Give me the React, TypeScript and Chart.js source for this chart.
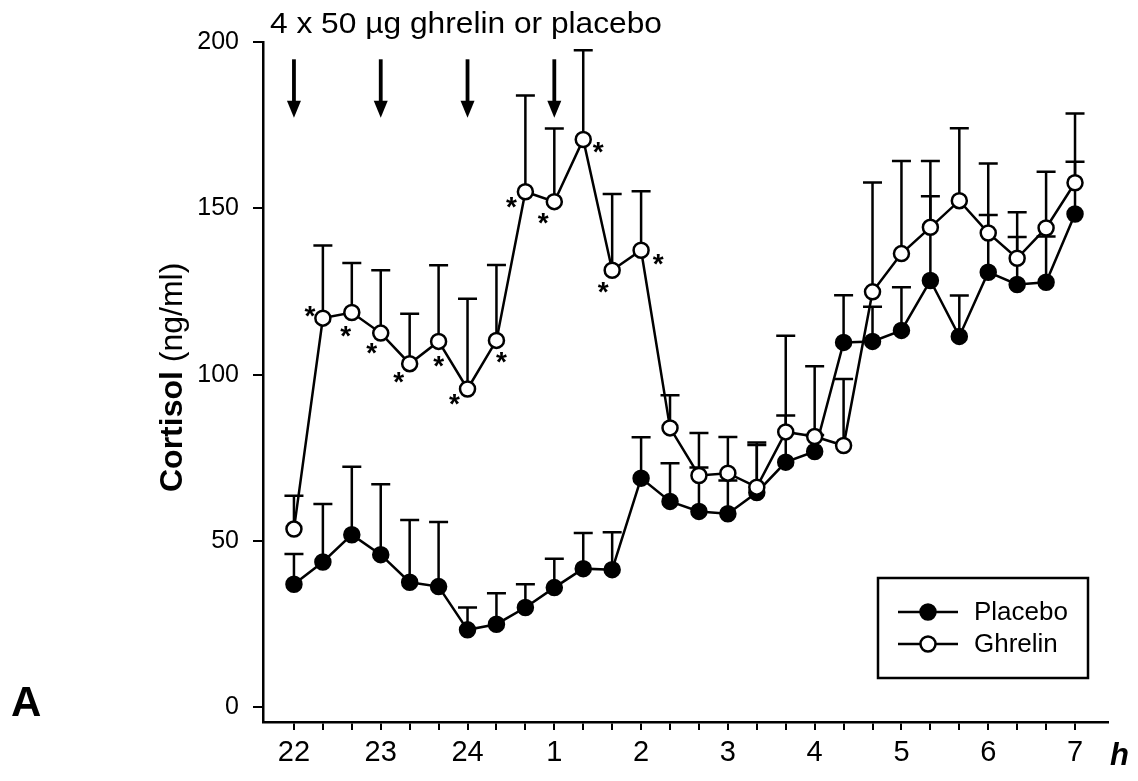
import React, { useEffect, useRef } from 'react';
import { Chart, registerables } from 'chart.js';

Chart.register(...registerables);

// ---- data ----
const timeLabels = ['22', '', '', '23', '', '', '24', '', '', '1', '', '', '2', '', '', '3', '', '', '4', '', '', '5', '', '', '6', '', '', '7'];
const placeboMean = [37.0, 43.7, 51.9, 45.9, 37.6, 36.3, 23.3, 25.0, 30.0, 36.0, 41.7, 41.4, 68.9, 61.9, 58.9, 58.2, 64.6, 73.7, 76.9, 109.7, 110.0, 113.3, 128.3, 111.5, 130.8, 127.1, 127.8, 148.3];
const placeboSem = [9.1, 17.4, 20.4, 21.2, 18.7, 19.4, 6.7, 9.3, 7.0, 8.7, 10.7, 11.2, 12.3, 11.5, 13.2, 10.0, 14.3, 14.0, 5.0, 14.2, 10.4, 13.0, 25.3, 12.3, 17.2, 14.3, 13.7, 15.7];
const ghrelinMean = [53.6, 117.0, 118.7, 112.5, 103.3, 110.0, 95.7, 110.3, 155.0, 152.0, 170.7, 131.4, 137.4, 84.0, 69.7, 70.4, 66.2, 82.8, 81.4, 78.7, 124.9, 136.4, 144.3, 152.3, 142.6, 135.0, 144.1, 157.7];
const ghrelinSem = [10.0, 21.8, 14.9, 18.9, 15.0, 22.9, 27.1, 22.7, 28.9, 22.0, 26.8, 22.9, 17.7, 9.8, 12.8, 10.9, 13.4, 28.9, 21.1, 20.0, 32.9, 27.8, 19.9, 21.8, 20.9, 13.8, 16.9, 20.8];
const yTicks = [0, 50, 100, 150, 200];
const injectionIdx = [0, 3, 6, 9];
const significantIdx = [1, 2, 3, 4, 5, 6, 7, 8, 9, 10, 11, 12];
const seriesNames = ['Placebo', 'Ghrelin'];
const titleText = '4 x 50 µg ghrelin or placebo';
const yTitleBold = 'Cortisol';
const yTitleNormal = ' (ng/ml)';
const panelLetter = 'A';
const xUnit = 'h';

const FONT = "'Liberation Sans', Arial, Helvetica, sans-serif";

const extrasPlugin = {
  id: 'extras',
  beforeDatasetsDraw(chart: any) {
    const ctx = chart.ctx;
    const xs = chart.scales.x;
    const ys = chart.scales.y;
    const sems = [placeboSem, ghrelinSem];
    const means = [placeboMean, ghrelinMean];
    ctx.save();
    ctx.strokeStyle = '#000';
    ctx.lineWidth = 2.5;
    ctx.lineCap = 'butt';
    for (let s = 0; s < 2; s++) {
      for (let i = 0; i < means[s].length; i++) {
        const px = xs.getPixelForValue(i);
        const y0 = ys.getPixelForValue(means[s][i]);
        const y1 = ys.getPixelForValue(means[s][i] + sems[s][i]);
        ctx.beginPath();
        ctx.moveTo(px, y0);
        ctx.lineTo(px, y1);
        ctx.moveTo(px - 9.5, y1);
        ctx.lineTo(px + 9.5, y1);
        ctx.stroke();
      }
    }
    ctx.restore();
  },
  afterDraw(chart: any) {
    const ctx = chart.ctx;
    const xs = chart.scales.x;
    const ys = chart.scales.y;
    ctx.save();
    ctx.fillStyle = '#000';
    ctx.strokeStyle = '#000';

    // title
    ctx.font = `29px ${FONT}`;
    ctx.textBaseline = 'alphabetic';
    ctx.textAlign = 'left';
    const tw = ctx.measureText(titleText).width;
    ctx.save();
    ctx.translate(270, 33);
    ctx.scale(392 / tw, 1);
    ctx.fillText(titleText, 0, 0);
    ctx.restore();

    // injection arrows
    for (const idx of injectionIdx) {
      const px = xs.getPixelForValue(idx);
      const top = ys.getPixelForValue(194.8);
      const tip = ys.getPixelForValue(177.2);
      ctx.lineWidth = 3.8;
      ctx.beginPath();
      ctx.moveTo(px, top);
      ctx.lineTo(px, tip - 14);
      ctx.stroke();
      ctx.beginPath();
      ctx.moveTo(px - 7, tip - 17);
      ctx.lineTo(px + 7, tip - 17);
      ctx.lineTo(px, tip);
      ctx.closePath();
      ctx.fill();
    }

    // significance asterisks
    const offs: [number, number][] = [[-13, -7], [-6, 19], [-9, 15], [-11, 14], [0, 20], [-13, 11], [5, 17], [-14, 11], [-11, 17], [15, 8], [-9, 17], [17, 9]];
    ctx.font = `bold 28px ${FONT}`;
    ctx.textAlign = 'center';
    const m = ctx.measureText('*');
    const shift = (m.actualBoundingBoxAscent - m.actualBoundingBoxDescent) / 2;
    significantIdx.forEach((idx, k) => {
      const px = xs.getPixelForValue(idx) + offs[k][0];
      const py = ys.getPixelForValue(ghrelinMean[idx]) + offs[k][1];
      ctx.fillText('*', px, py + shift);
    });

    // y-axis title (rotated, bold + normal)
    ctx.save();
    ctx.translate(182, 492);
    ctx.rotate(-Math.PI / 2);
    ctx.textAlign = 'left';
    ctx.textBaseline = 'alphabetic';
    ctx.font = `bold 32px ${FONT}`;
    ctx.fillText(yTitleBold, 0, 0);
    const bw = ctx.measureText(yTitleBold).width;
    ctx.font = `32px ${FONT}`;
    ctx.fillText(yTitleNormal, bw, 0);
    ctx.restore();

    // panel letter
    ctx.font = `bold 42px ${FONT}`;
    ctx.textAlign = 'left';
    ctx.fillText(panelLetter, 11, 716);

    // unit
    ctx.font = `italic bold 31px ${FONT}`;
    ctx.fillText(xUnit, 1110, 765);

    // legend
    const lx = 878, ly = 578, lw = 210, lh = 100;
    ctx.lineWidth = 2.5;
    ctx.strokeRect(lx, ly, lw, lh);
    const rows = [612, 644];
    ctx.font = `26px ${FONT}`;
    ctx.textBaseline = 'middle';
    seriesNames.forEach((name, k) => {
      const y = rows[k];
      ctx.lineWidth = 2.5;
      ctx.beginPath();
      ctx.moveTo(898, y);
      ctx.lineTo(958, y);
      ctx.stroke();
      ctx.beginPath();
      ctx.arc(928, y, 7.5, 0, Math.PI * 2);
      ctx.fillStyle = k === 0 ? '#000' : '#fff';
      ctx.fill();
      ctx.stroke();
      ctx.fillStyle = '#000';
      ctx.fillText(name, 974, y + 1);
    });
    ctx.restore();
  },
};

export default function App() {
  const ref = useRef<HTMLCanvasElement | null>(null);
  useEffect(() => {
    if (!ref.current) return;
    const toPts = (arr: number[]) => arr.map((v, i) => ({ x: i, y: v }));
    const chart = new Chart(ref.current, {
      type: 'line',
      data: {
        datasets: [
          {
            label: seriesNames[0],
            data: toPts(placeboMean),
            borderColor: '#000',
            backgroundColor: '#000',
            pointBackgroundColor: '#000',
            pointBorderColor: '#000',
            pointRadius: 7.5,
            pointBorderWidth: 2.5,
            borderWidth: 2.5,
            tension: 0,
            order: 1,
          },
          {
            label: seriesNames[1],
            data: toPts(ghrelinMean),
            borderColor: '#000',
            backgroundColor: '#fff',
            pointBackgroundColor: '#fff',
            pointBorderColor: '#000',
            pointRadius: 7.5,
            pointBorderWidth: 2.5,
            borderWidth: 2.5,
            tension: 0,
            order: 0,
          },
        ],
      },
      options: {
        responsive: false,
        animation: false,
        devicePixelRatio: 1,
        layout: { padding: { left: 0, top: 42, right: 30, bottom: 0 } },
        plugins: {
          legend: { display: false },
          tooltip: { enabled: false },
          title: { display: false },
        },
        scales: {
          x: {
            type: 'linear',
            min: -1.07,
            max: 28.14,
            afterBuildTicks: (scale: any) => {
              scale.ticks = timeLabels.map((_, i) => ({ value: i }));
            },
            afterFit: (scale: any) => {
              scale.height = 59;
            },
            ticks: {
              autoSkip: false,
              maxRotation: 0,
              padding: 6,
              color: '#000',
              font: { family: FONT, size: 29 },
              callback: (_v: any, index: number) => timeLabels[index],
            },
            grid: {
              display: true,
              drawOnChartArea: false,
              drawTicks: true,
              tickLength: 8,
              color: '#000',
              lineWidth: 2,
            },
            border: { display: true, color: '#000', width: 2.5 },
          },
          y: {
            type: 'linear',
            min: -4.4,
            max: 200,
            afterBuildTicks: (scale: any) => {
              scale.ticks = yTicks.map((v) => ({ value: v }));
            },
            afterFit: (scale: any) => {
              scale.width = 263;
            },
            ticks: {
              padding: 14,
              color: '#000',
              font: { family: FONT, size: 25 },
              callback: (v: any) => String(v),
            },
            grid: {
              display: true,
              drawOnChartArea: false,
              drawTicks: true,
              tickLength: 10,
              color: '#000',
              lineWidth: 2,
            },
            border: { display: true, color: '#000', width: 2.5 },
          },
        },
      },
      plugins: [extrasPlugin],
    } as any);
    return () => chart.destroy();
  }, []);
  return (
    <div style={{ position: 'absolute', left: 0, top: 0, width: 1138, height: 781, background: '#fff' }}>
      <canvas ref={ref} width={1138} height={781} style={{ display: 'block' }} />
    </div>
  );
}
